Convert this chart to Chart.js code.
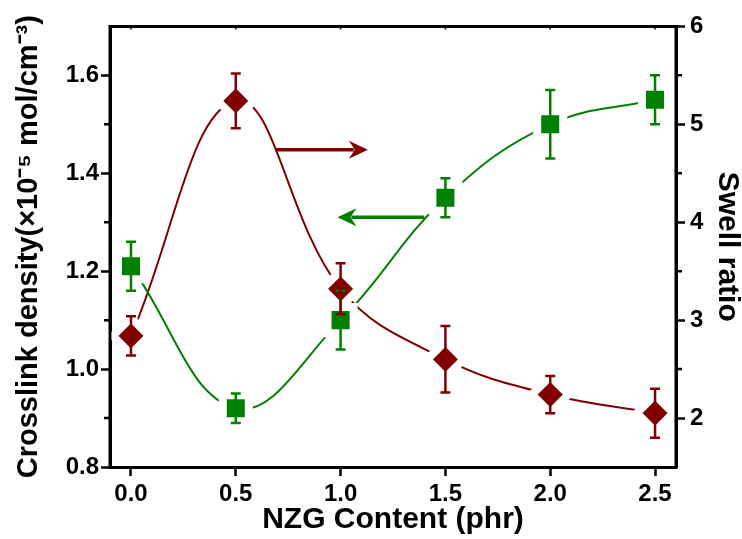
<!DOCTYPE html>
<html>
<head>
<meta charset="utf-8">
<script src="https://cdn.jsdelivr.net/npm/chart.js@4.4.0/dist/chart.umd.min.js"></script>
<style>
  html, body { margin: 0; padding: 0; background: #fff; }
</style>
</head>
<body>
<canvas id="grafico" width="742" height="539"></canvas>
<script>
const nzgContent = [0, 0.5, 1.0, 1.5, 2.0, 2.5];
const crosslink = [1.21, 0.92, 1.10, 1.35, 1.50, 1.55];
const crosslinkErr = [0.05, 0.03, 0.06, 0.04, 0.07, 0.05];
const swell = [2.84, 5.24, 3.32, 2.60, 2.24, 2.05];
const swellErr = [0.20, 0.28, 0.26, 0.34, 0.19, 0.25];

const xTicks = [0, 0.5, 1.0, 1.5, 2.0, 2.5];
const leftTicks = [0.8, 1.0, 1.2, 1.4, 1.6];
const leftMinor = [0.9, 1.1, 1.3, 1.5];
const rightTicks = [2, 3, 4, 5, 6];
const rightMinor = [2.5, 3.5, 4.5, 5.5];

// arrows pointing to the axis of each curve, in data units
const redArrow = { from: 0.69, to: 1.13, y: 4.74 };
const greenArrow = { from: 1.40, to: 0.985, y: 1.31 };

const grafico = document.getElementById('grafico');
const verde = 'rgb(0, 128, 0)';
const rojo = 'rgb(128, 0, 0)';
const fuente = "'Liberation Sans', Arial, sans-serif";

const errorBars = {
  id: 'errorBars',
  afterDatasetsDraw(chart) {
    const ctx = chart.ctx;
    const x = chart.scales.x;
    chart.data.datasets.forEach((ds) => {
      const y = chart.scales[ds.yAxisID];
      ctx.save();
      ctx.strokeStyle = ds.backgroundColor;
      ctx.lineWidth = 2.5;
      ds.data.forEach((p, i) => {
        const px = x.getPixelForValue(p.x);
        const top = y.getPixelForValue(p.y + ds.errors[i]);
        const bot = y.getPixelForValue(p.y - ds.errors[i]);
        ctx.beginPath();
        ctx.moveTo(px, top); ctx.lineTo(px, bot);
        ctx.moveTo(px - 5, top); ctx.lineTo(px + 5, top);
        ctx.moveTo(px - 5, bot); ctx.lineTo(px + 5, bot);
        ctx.stroke();
      });
      ctx.restore();
    });
  }
};

function drawArrow(ctx, x1, x2, y, color) {
  const dir = Math.sign(x2 - x1);
  ctx.save();
  ctx.strokeStyle = color;
  ctx.fillStyle = color;
  ctx.lineWidth = 3.5;
  ctx.beginPath();
  ctx.moveTo(x1, y);
  ctx.lineTo(x2 - dir * 14, y);
  ctx.stroke();
  ctx.beginPath();
  ctx.moveTo(x2, y);
  ctx.lineTo(x2 - dir * 19, y - 9);
  ctx.lineTo(x2 - dir * 13, y);
  ctx.lineTo(x2 - dir * 19, y + 9);
  ctx.closePath();
  ctx.fill();
  ctx.restore();
}

const arrows = {
  id: 'arrows',
  afterDatasetsDraw(chart) {
    const { ctx, scales } = chart;
    drawArrow(ctx, scales.x.getPixelForValue(redArrow.from), scales.x.getPixelForValue(redArrow.to),
      scales.y1.getPixelForValue(redArrow.y), rojo);
    drawArrow(ctx, scales.x.getPixelForValue(greenArrow.from), scales.x.getPixelForValue(greenArrow.to),
      scales.y.getPixelForValue(greenArrow.y), verde);
  }
};

// box around the plot, minor ticks and the small ticks along the top
const frame = {
  id: 'frame',
  afterDraw(chart) {
    const { ctx, chartArea: a, scales } = chart;
    ctx.save();
    ctx.strokeStyle = '#000';
    ctx.lineWidth = 3;
    ctx.beginPath();
    ctx.moveTo(a.left, a.bottom + 1.5);
    ctx.lineTo(a.left, a.top);
    ctx.lineTo(a.right, a.top);
    ctx.lineTo(a.right, a.bottom + 1.5);
    ctx.stroke();
    ctx.lineWidth = 2.5;
    ctx.beginPath();
    leftMinor.forEach(v => {
      const py = scales.y.getPixelForValue(v);
      ctx.moveTo(a.left - 6, py); ctx.lineTo(a.left, py);
    });
    rightMinor.forEach(v => {
      const py = scales.y1.getPixelForValue(v);
      ctx.moveTo(a.right, py); ctx.lineTo(a.right + 6, py);
    });
    ctx.stroke();
    ctx.lineWidth = 1.5;
    ctx.beginPath();
    xTicks.forEach(v => {
      const px = scales.x.getPixelForValue(v);
      ctx.moveTo(px, a.top); ctx.lineTo(px, a.top + 3);
    });
    ctx.stroke();
    ctx.restore();
  }
};

const tickFont = { family: fuente, size: 24, weight: 'bold' };
const titleFont = { family: fuente, size: 30, weight: 'bold', lineHeight: 1 };
const gridOpts = { drawOnChartArea: false, tickLength: 9, tickWidth: 2.5, tickColor: '#000' };

new Chart(grafico, {
  type: 'line',
  data: {
    datasets: [{
      label: 'Crosslink density',
      data: nzgContent.map((x, i) => ({ x: x, y: crosslink[i] })),
      errors: crosslinkErr,
      yAxisID: 'y',
      borderColor: verde,
      backgroundColor: verde,
      borderWidth: 2,
      pointStyle: 'rect',
      pointRadius: 18.4,
      pointBackgroundColor: verde,
      pointBorderColor: '#fff',
      pointBorderWidth: 8,
      tension: 0.4,
      fill: false
    }, {
      label: 'Swell ratio',
      data: nzgContent.map((x, i) => ({ x: x, y: swell[i] })),
      errors: swellErr,
      yAxisID: 'y1',
      borderColor: rojo,
      backgroundColor: rojo,
      borderWidth: 2,
      pointStyle: 'rectRot',
      pointRadius: 18.2,
      pointBackgroundColor: rojo,
      pointBorderColor: '#fff',
      pointBorderWidth: 8,
      tension: 0.4,
      fill: false
    }]
  },
  options: {
    responsive: false,
    devicePixelRatio: 1,
    animation: false,
    events: [],
    layout: { padding: { top: 25, left: 0, right: 0, bottom: 0 } },
    plugins: { legend: { display: false }, tooltip: { enabled: false } },
    scales: {
      x: {
        type: 'linear',
        min: -0.1,
        max: 2.6,
        afterBuildTicks: s => { s.ticks = xTicks.map(v => ({ value: v })); },
        afterFit: s => { s.height = 72; },
        border: { color: '#000', width: 3 },
        grid: gridOpts,
        ticks: { color: '#000', font: tickFont, padding: 4, maxRotation: 0, autoSkip: false,
          callback: v => Number(v).toFixed(1) },
        title: { display: true, text: 'NZG Content (phr)', color: '#000', font: titleFont,
          padding: { top: 0, bottom: 4 } }
      },
      y: {
        type: 'linear',
        position: 'left',
        min: 0.8,
        max: 1.7,
        afterBuildTicks: s => { s.ticks = leftTicks.map(v => ({ value: v })); },
        afterFit: s => { s.width = 110; },
        border: { color: '#000', width: 3 },
        grid: gridOpts,
        ticks: { color: '#000', font: tickFont, padding: 2, autoSkip: false,
          callback: v => Number(v).toFixed(1) },
        title: { display: true, text: 'Crosslink density(×10⁻⁵ mol/cm⁻³)', color: '#000',
          font: { family: fuente, size: 29, weight: 'bold', lineHeight: 1 },
          padding: { top: 14, bottom: 0 } }
      },
      y1: {
        type: 'linear',
        position: 'right',
        min: 1.5,
        max: 6,
        afterBuildTicks: s => { s.ticks = rightTicks.map(v => ({ value: v })); },
        afterFit: s => { s.width = 66; },
        border: { color: '#000', width: 3 },
        grid: gridOpts,
        ticks: { color: '#000', font: tickFont, padding: 5, autoSkip: false,
          callback: v => String(v) },
        title: { display: true, text: 'Swell ratio', color: '#000', font: titleFont,
          padding: { top: 0, bottom: 0 } }
      }
    }
  },
  plugins: [errorBars, arrows, frame]
});
</script>
</body>
</html>
